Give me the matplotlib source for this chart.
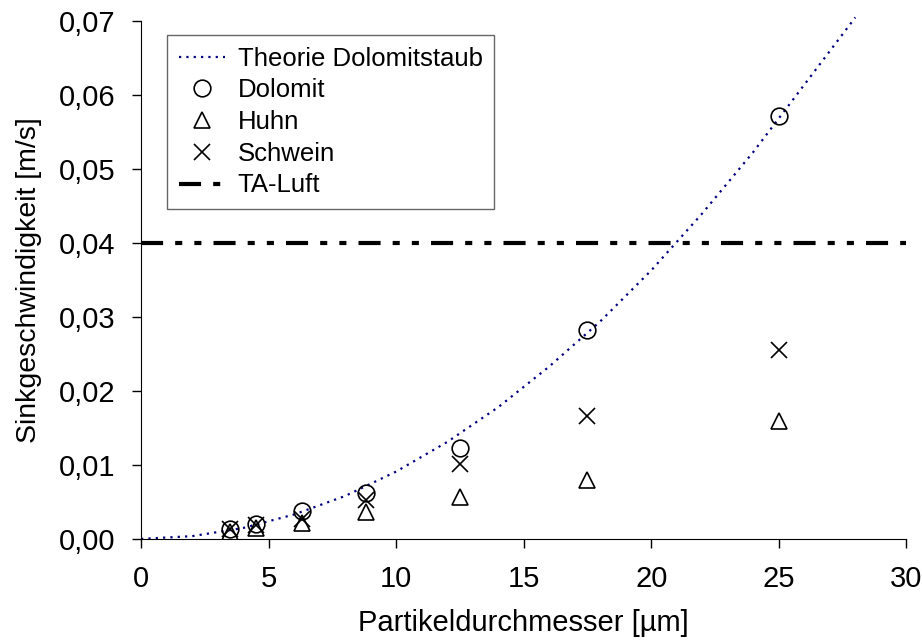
import matplotlib.pyplot as plt
from matplotlib.ticker import FuncFormatter

plt.rcParams['font.family'] = ['Liberation Sans', 'DejaVu Sans']

# Theoriekurve
theorie_d = [0, 2, 4, 6, 8, 10, 12, 14, 16, 18, 20, 22, 24, 26, 28]
theorie_v = [0.0, 0.00037, 0.00147, 0.0033, 0.0058, 0.0091, 0.0131, 0.0178,
             0.0233, 0.0294, 0.0363, 0.0440, 0.0523, 0.0614, 0.0705]

# Messwerte
d = [3.5, 4.5, 6.3, 8.8, 12.5, 17.5, 25]
dolomit = [0.0014, 0.0020, 0.0038, 0.0062, 0.0123, 0.0282, 0.0572]
huhn = [0.0009, 0.0015, 0.0022, 0.0037, 0.0057, 0.0080, 0.0159]
schwein = [0.0013, 0.0019, 0.0027, 0.0052, 0.0101, 0.0166, 0.0256]

ta_luft = 0.04

fig = plt.figure(figsize=(9.22, 6.4), dpi=100)
ax = fig.add_axes([0.153, 0.158, 0.830, 0.809])

ax.plot(theorie_d, theorie_v, linestyle=(0, (1, 2.3)), color='#000080', lw=1.6,
        label='Theorie Dolomitstaub', clip_on=False)
ax.plot(d, dolomit, 'o', ms=12, mfc='none', mec='black', mew=1.2, label='Dolomit')
ax.plot(d, huhn, '^', ms=12, mfc='none', mec='black', mew=1.2, label='Huhn')
ax.plot(d, schwein, 'x', ms=12, mec='black', mew=1.2, label='Schwein')
ax.axhline(ta_luft, color='black', lw=3, linestyle=(0, (5.3, 2.9, 1.7, 2.9, 1.7, 2.9)),
           label='TA-Luft')

ax.set_xlim(0, 30)
ax.set_ylim(0, 0.07)
ax.set_xticks([0, 5, 10, 15, 20, 25, 30])
ax.set_yticks([0, 0.01, 0.02, 0.03, 0.04, 0.05, 0.06, 0.07])
ax.yaxis.set_major_formatter(FuncFormatter(lambda v, p: f'{v:.2f}'.replace('.', ',')))
ax.tick_params(direction='out', length=6.5, width=1, labelsize=21)
ax.tick_params(axis='y', pad=12)
ax.tick_params(axis='x', pad=12)

for s in ['top', 'right']:
    ax.spines[s].set_visible(False)

ax.set_xlabel('Partikeldurchmesser [µm]', fontsize=21, labelpad=12)
ax.set_ylabel('Sinkgeschwindigkeit [m/s]', fontsize=20.5, labelpad=12)

leg = ax.legend(loc='upper left', bbox_to_anchor=(0.034, 0.973), borderaxespad=0,
                fontsize=18.5, frameon=True, fancybox=False, edgecolor='#404040',
                handlelength=1.8, handletextpad=0.5, labelspacing=0.3, borderpad=0.45)
leg.get_frame().set_linewidth(1)

fig.savefig('out.png', dpi=100)
